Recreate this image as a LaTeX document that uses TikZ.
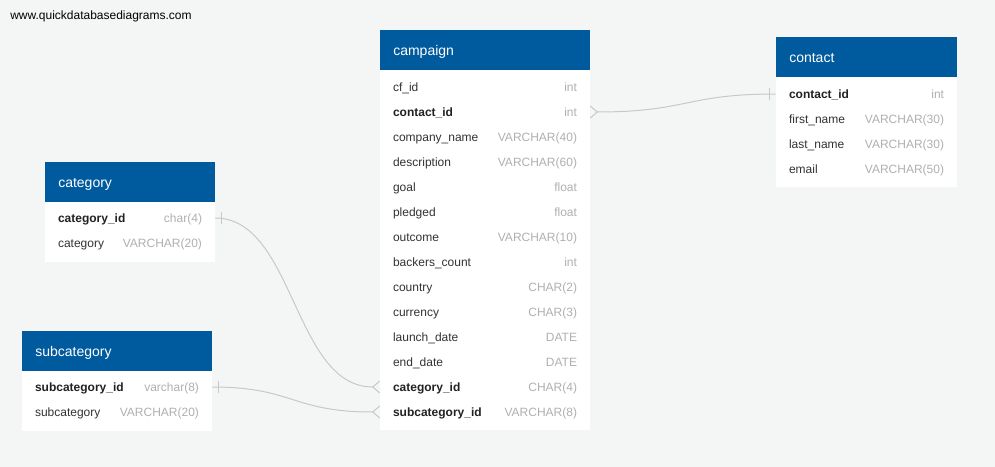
\documentclass[tikz,border=0pt]{standalone}
\usepackage{fontspec}
\setmainfont{Liberation Sans}
\definecolor{qblue}{RGB}{0,90,158}
\definecolor{bgc}{RGB}{244,245,245}
\definecolor{fieldc}{RGB}{51,51,51}
\definecolor{keyc}{RGB}{34,34,34}
\definecolor{typec}{RGB}{176,176,176}
\definecolor{relc}{RGB}{200,200,200}
\begin{document}
\begin{tikzpicture}[x=0.75pt,y=-0.75pt,
  hdr/.style={fill=qblue, text=white, font=\fontsize{10.5}{12}\selectfont, anchor=north west,
    inner xsep=9.75pt, inner ysep=0pt, minimum height=30pt, text height=7.6pt, text depth=0pt, align=left},
  body/.style={fill=white, anchor=north west, inner sep=0pt},
  fld/.style={inner xsep=9.75pt, inner ysep=0pt, text height=6.75pt, text depth=0pt, align=left,
    font=\fontsize{9}{11}\selectfont, text=fieldc},
  key/.style={fld, font=\fontsize{9}{11}\selectfont\bfseries, text=keyc},
  typ/.style={anchor=east, inner sep=0pt, text height=6.75pt, text depth=0pt,
    font=\fontsize{9}{11}\selectfont, text=typec},
  rel/.style={draw=relc, line width=0.75pt},
  cpw/.style={text width=138pt},
  ctw/.style={text width=116.25pt},
  caw/.style={text width=108pt},
  sbw/.style={text width=123pt}
]
\useasboundingbox (0,0) rectangle (995,467);
\fill[bgc] (0,0) rectangle (995,467);

\node[anchor=west, inner sep=0pt, text height=6.75pt, text depth=0pt, font=\fontsize{9}{11}\selectfont] (site) at (10,15.5) {www.quickdatabasediagrams.com};

% ---------- campaign ----------
\node[body, minimum width=157.5pt, minimum height=270pt] (cp-body) at (380,70) {};
\node[hdr, cpw] (cp-hdr) at (380,30) {campaign};
\node[fld, cpw] (cp-cfid) at (485,87) {cf\_id};
\node[typ] at ([xshift=-9.75pt]cp-cfid.east) {int};
\node[key, cpw] (cp-contactid) at (485,112) {contact\_id};
\node[typ] at ([xshift=-9.75pt]cp-contactid.east) {int};
\node[fld, cpw] (cp-company) at (485,137) {company\_name};
\node[typ] at ([xshift=-9.75pt]cp-company.east) {VARCHAR(40)};
\node[fld, cpw] (cp-desc) at (485,162) {description};
\node[typ] at ([xshift=-9.75pt]cp-desc.east) {VARCHAR(60)};
\node[fld, cpw] (cp-goal) at (485,187) {goal};
\node[typ] at ([xshift=-9.75pt]cp-goal.east) {float};
\node[fld, cpw] (cp-pledged) at (485,212) {pledged};
\node[typ] at ([xshift=-9.75pt]cp-pledged.east) {float};
\node[fld, cpw] (cp-outcome) at (485,237) {outcome};
\node[typ] at ([xshift=-9.75pt]cp-outcome.east) {VARCHAR(10)};
\node[fld, cpw] (cp-backers) at (485,262) {backers\_count};
\node[typ] at ([xshift=-9.75pt]cp-backers.east) {int};
\node[fld, cpw] (cp-country) at (485,287) {country};
\node[typ] at ([xshift=-9.75pt]cp-country.east) {CHAR(2)};
\node[fld, cpw] (cp-currency) at (485,312) {currency};
\node[typ] at ([xshift=-9.75pt]cp-currency.east) {CHAR(3)};
\node[fld, cpw] (cp-launch) at (485,337) {launch\_date};
\node[typ] at ([xshift=-9.75pt]cp-launch.east) {DATE};
\node[fld, cpw] (cp-end) at (485,362) {end\_date};
\node[typ] at ([xshift=-9.75pt]cp-end.east) {DATE};
\node[key, cpw] (cp-catid) at (485,387) {category\_id};
\node[typ] at ([xshift=-9.75pt]cp-catid.east) {CHAR(4)};
\node[key, cpw] (cp-subid) at (485,412) {subcategory\_id};
\node[typ] at ([xshift=-9.75pt]cp-subid.east) {VARCHAR(8)};

% ---------- contact ----------
\node[body, minimum width=135.75pt, minimum height=82.5pt] (ct-body) at (776,77) {};
\node[hdr, ctw] (ct-hdr) at (776,37) {contact};
\node[key, ctw] (ct-contactid) at (866.5,94) {contact\_id};
\node[typ] at ([xshift=-9.75pt]ct-contactid.east) {int};
\node[fld, ctw] (ct-first) at (866.5,119) {first\_name};
\node[typ] at ([xshift=-9.75pt]ct-first.east) {VARCHAR(30)};
\node[fld, ctw] (ct-last) at (866.5,144) {last\_name};
\node[typ] at ([xshift=-9.75pt]ct-last.east) {VARCHAR(30)};
\node[fld, ctw] (ct-email) at (866.5,169) {email};
\node[typ] at ([xshift=-9.75pt]ct-email.east) {VARCHAR(50)};

% ---------- category ----------
\node[body, minimum width=127.5pt, minimum height=45pt] (ca-body) at (45,202) {};
\node[hdr, caw] (ca-hdr) at (45,162) {category};
\node[key, caw] (ca-catid) at (130,218) {category\_id};
\node[typ] at ([xshift=-9.75pt]ca-catid.east) {char(4)};
\node[fld, caw] (ca-cat) at (130,243) {category};
\node[typ] at ([xshift=-9.75pt]ca-cat.east) {VARCHAR(20)};

% ---------- subcategory ----------
\node[body, minimum width=142.5pt, minimum height=45pt] (sb-body) at (22,371) {};
\node[hdr, sbw] (sb-hdr) at (22,331) {subcategory};
\node[key, sbw] (sb-subid) at (117,387) {subcategory\_id};
\node[typ] at ([xshift=-9.75pt]sb-subid.east) {varchar(8)};
\node[fld, sbw] (sb-sub) at (117,412) {subcategory};
\node[typ] at ([xshift=-9.75pt]sb-sub.east) {VARCHAR(20)};

% ---------- relations ----------
% campaign.contact_id >- contact.contact_id
\draw[rel] (cp-contactid.east) ++(0,-6) -- ++(7,6) -- ++(-7,6);
\draw[rel] ([xshift=5.25pt]cp-contactid.east) .. controls +(90,0) and +(-90,0) .. (ct-contactid.west);
\draw[rel] (ct-contactid.west) ++(-6,-6) -- ++(0,12);

% category.category_id -< campaign.category_id
\draw[rel] (ca-catid.east) .. controls +(79,0) and +(-79,0) .. ([xshift=-5.25pt]cp-catid.west);
\draw[rel] (ca-catid.east) ++(6,-6) -- ++(0,12);
\draw[rel] (cp-catid.west) ++(0,-6) -- ++(-7,6) -- ++(7,6);

% subcategory.subcategory_id -< campaign.subcategory_id
\draw[rel] (sb-subid.east) .. controls +(81,0) and +(-81,0) .. ([xshift=-5.25pt]cp-subid.west);
\draw[rel] (sb-subid.east) ++(6,-6) -- ++(0,12);
\draw[rel] (cp-subid.west) ++(0,-6) -- ++(-7,6) -- ++(7,6);
\end{tikzpicture}
\end{document}
